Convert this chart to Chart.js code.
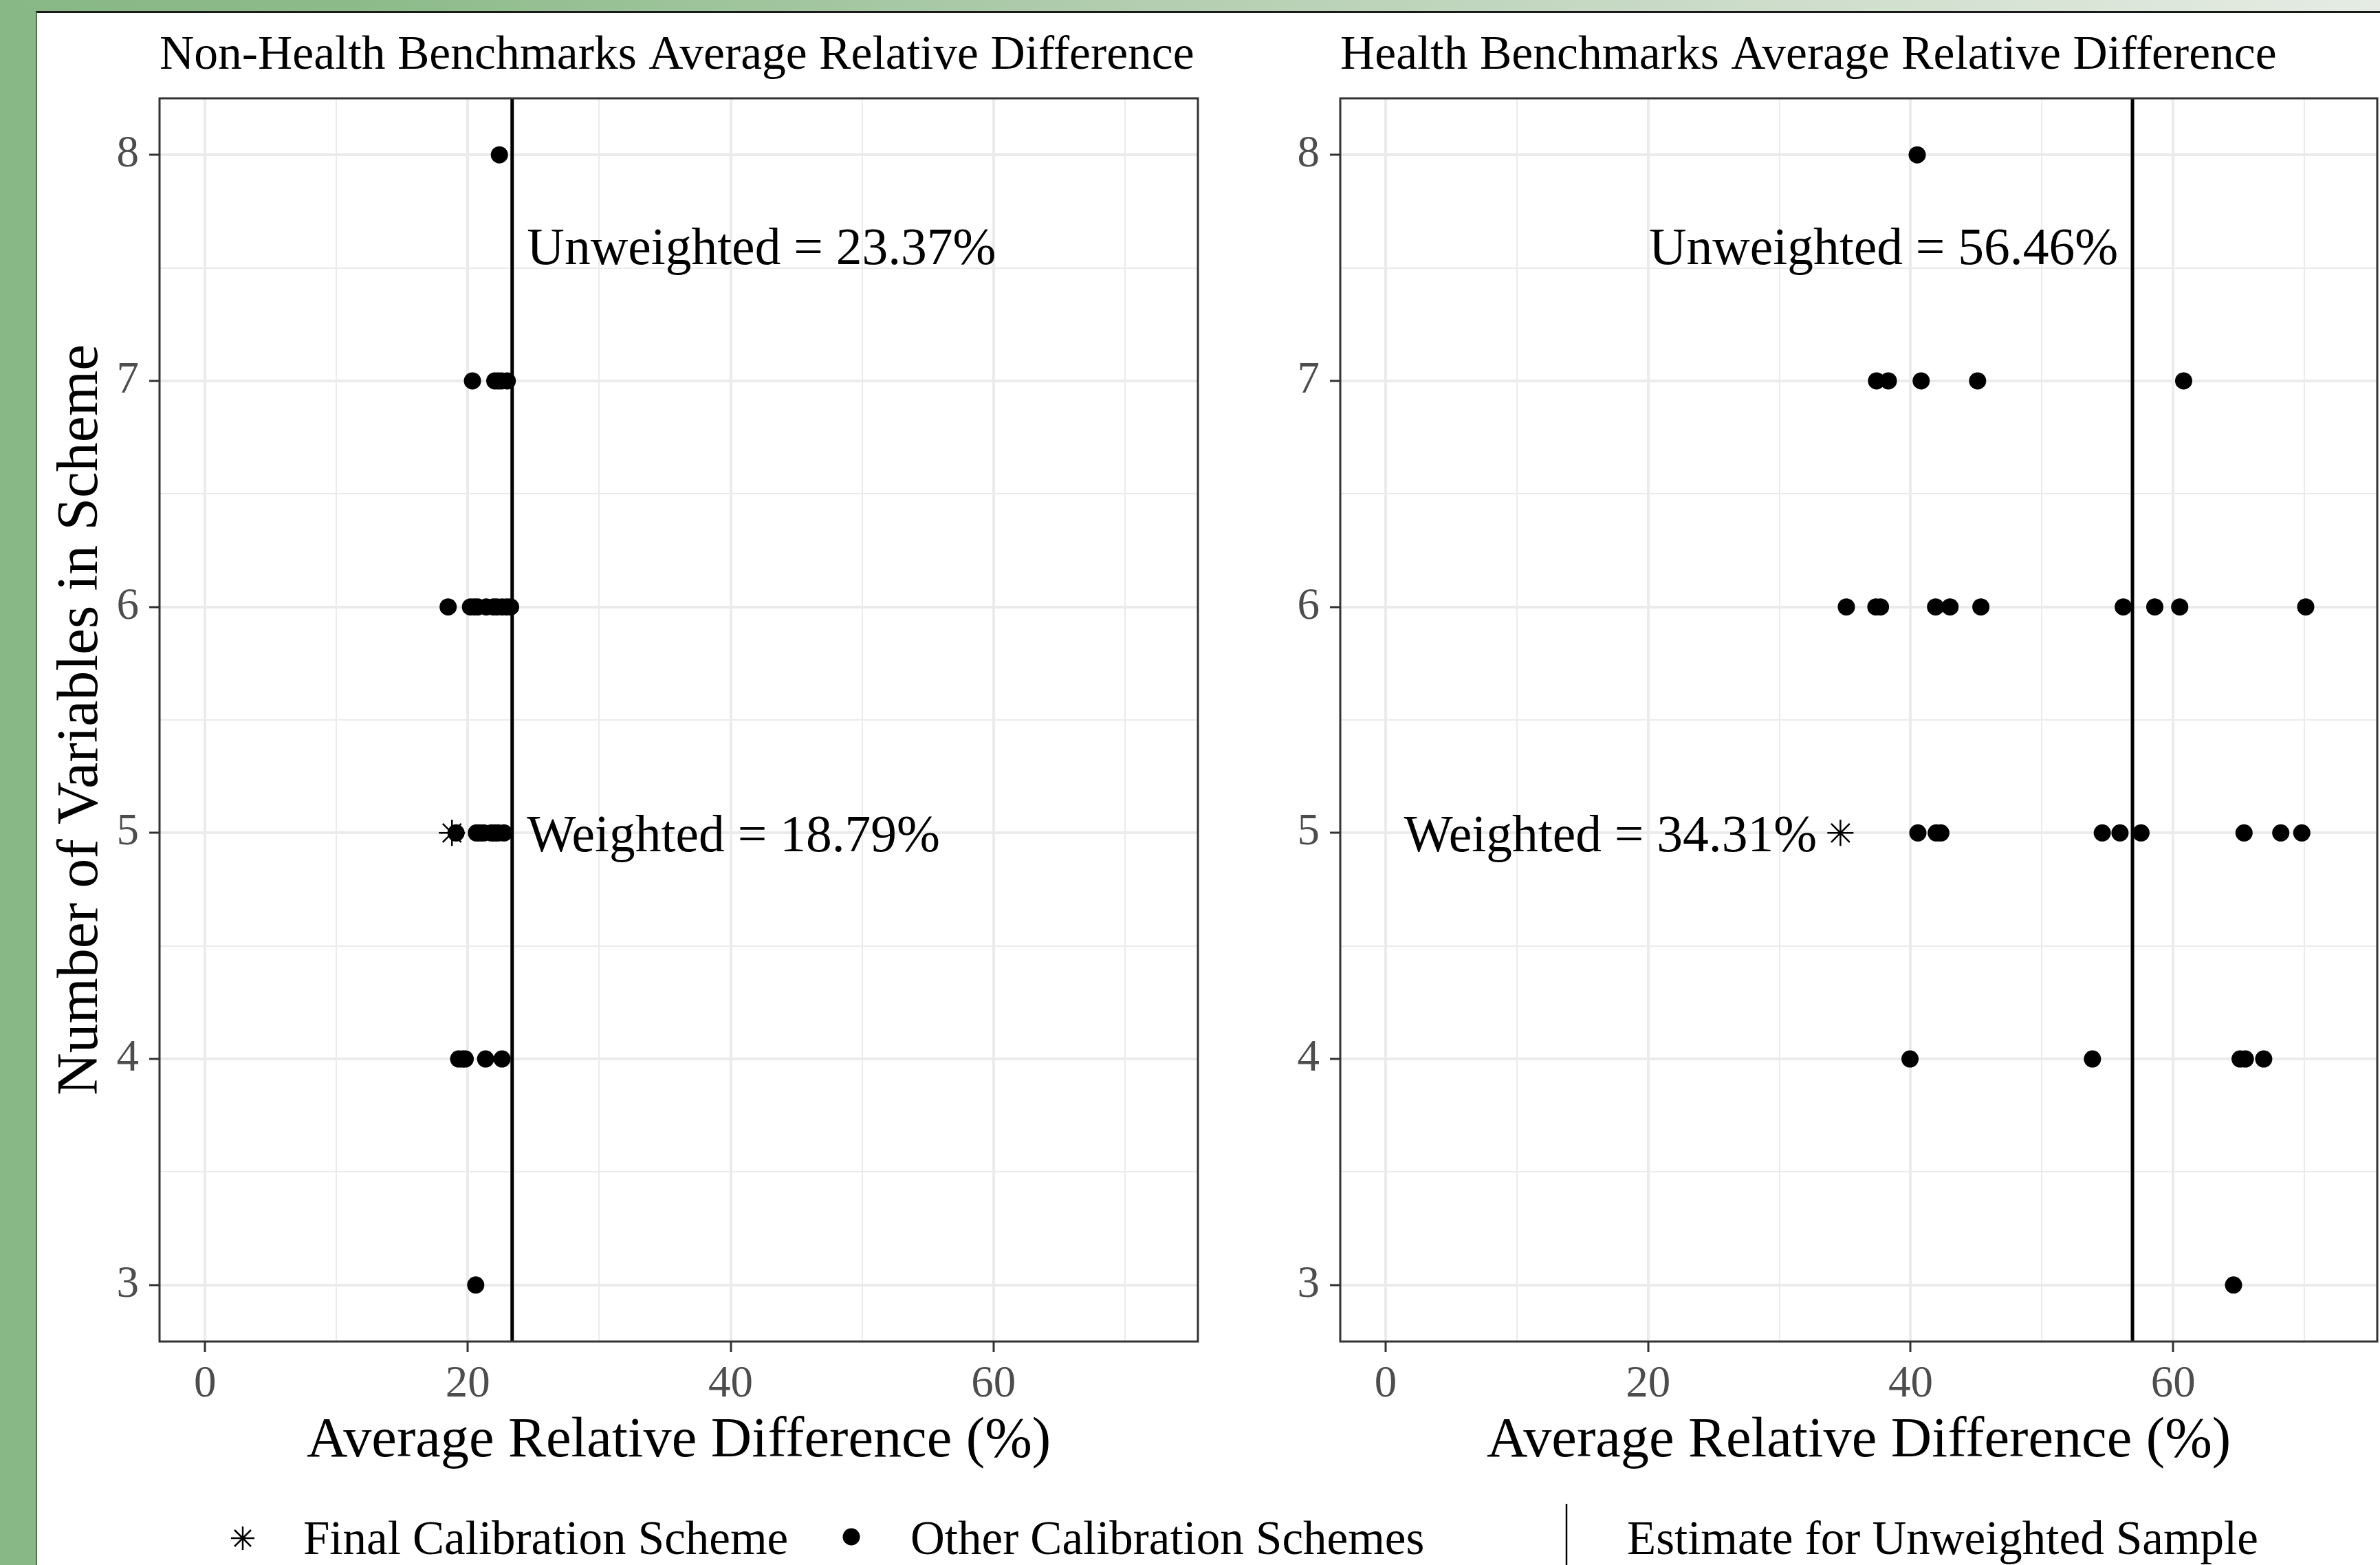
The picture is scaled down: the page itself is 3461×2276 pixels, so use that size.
<!DOCTYPE html>
<html>
<head>
<meta charset="utf-8">
<script src="https://cdn.jsdelivr.net/npm/chart.js@4.4.1/dist/chart.umd.min.js"></script>
<style>
html,body{margin:0;padding:0;}
body{width:3461px;height:2276px;position:relative;overflow:hidden;background:#88b886;font-family:"Liberation Serif","Times New Roman",serif;}
#topband{position:absolute;left:0;top:0;width:3461px;height:18px;background:linear-gradient(to right,#88b886 0px,#8cbb89 500px,#b7d0b4 1800px,#e6ece4 3461px);}
#sheet{position:absolute;left:52px;top:16px;width:3409px;height:2260px;background:#fff;border-top:3px solid #1a1a1a;border-left:2px solid #4f774c;box-sizing:border-box;}
canvas{position:absolute;}
#cL{left:53px;top:18px;}
#cR{left:1760px;top:18px;}
.lg{position:absolute;font-size:69px;line-height:69px;color:#000;white-space:nowrap;top:2203px;}
svg{position:absolute;overflow:visible;}
</style>
</head>
<body>
<div id="topband"></div>
<div id="sheet"></div>
<canvas id="cL" width="1707" height="2138"></canvas>
<canvas id="cR" width="1701" height="2138"></canvas>

<svg style="left:0;top:0;width:3461px;height:2276px;pointer-events:none">
  <g stroke="#000" stroke-width="2.5">
    <line x1="353" y1="2220" x2="353" y2="2254"/>
    <line x1="336" y1="2237" x2="370" y2="2237"/>
    <line x1="341" y1="2225" x2="365" y2="2249"/>
    <line x1="341" y1="2249" x2="365" y2="2225"/>
  </g>
  <circle cx="1238" cy="2235" r="12.5" fill="#000"/>
  <line x1="2278" y1="2187" x2="2278" y2="2276" stroke="#000" stroke-width="2.5"/>
</svg>
<div class="lg" style="left:441px">Final Calibration Scheme</div>
<div class="lg" style="left:1324px">Other Calibration Schemes</div>
<div class="lg" style="left:2366px">Estimate for Unweighted Sample</div>

<script>
// ---------------- data ----------------
const rowLevels = [8, 7, 6, 5, 4, 3];

// Non-health benchmarks: average relative difference (%) of other calibration schemes, by number of variables
const nonHealthRow8 = [22.4];
const nonHealthRow7 = [20.35, 22.05, 22.3, 22.55, 23.0];
const nonHealthRow6 = [18.5, 20.2, 20.5, 20.75, 21.4, 21.95, 22.2, 22.6, 22.95, 23.25];
const nonHealthRow5 = [19.1, 20.65, 20.9, 21.2, 21.8, 22.05, 22.3, 22.75];
const nonHealthRow4 = [19.3, 19.6, 19.8, 21.35, 22.6];
const nonHealthRow3 = [20.6];
const nonHealthFinal = {x: 18.79, y: 5};
const nonHealthUnweighted = 23.37;

// Health benchmarks
const healthRow8 = [40.5];
const healthRow7 = [37.4, 38.3, 40.8, 45.1, 60.8];
const healthRow6 = [35.1, 37.35, 37.7, 41.9, 43.0, 45.35, 56.2, 58.6, 60.5, 70.1];
const healthRow5 = [40.55, 41.95, 42.3, 54.6, 55.95, 57.55, 65.4, 68.2, 69.8];
const healthRow4 = [39.95, 53.85, 65.1, 65.5, 66.9];
const healthRow3 = [64.6];
const healthFinal = {x: 34.65, y: 5};
const healthUnweighted = 56.9;

// labels & ticks
const panelTitles = ['Non-Health Benchmarks Average Relative Difference', 'Health Benchmarks Average Relative Difference'];
const xTitle = 'Average Relative Difference (%)';
const yTitle = 'Number of Variables in Scheme';
const xTickValues = [0, 10, 20, 30, 40, 50, 60, 70];
const xLabelValues = [0, 20, 40, 60];
const yTickValues = [3, 3.5, 4, 4.5, 5, 5.5, 6, 6.5, 7, 7.5, 8];
const nonHealthNotes = ['Unweighted = 23.37%', 'Weighted = 18.79%'];
const healthNotes = ['Unweighted = 56.46%', 'Weighted = 34.31%'];

// ---------------- helpers ----------------
const FONT = 'Liberation Serif';
function rowsToPoints(rows) {
  const pts = [];
  rows.forEach((vals, i) => vals.forEach(v => pts.push({x: v, y: rowLevels[i]})));
  return pts;
}
const isMajorX = v => xLabelValues.includes(v);
const isMajorY = v => Number.isInteger(v);

const decorPlugin = {
  id: 'decor',
  afterDatasetsDraw(chart, args, o) {
    const {ctx, chartArea: a, scales: {x, y}} = chart;
    ctx.save();
    // unweighted reference line
    const px = x.getPixelForValue(o.vline);
    ctx.strokeStyle = '#000';
    ctx.lineWidth = 5;
    ctx.beginPath(); ctx.moveTo(px, a.top); ctx.lineTo(px, a.bottom); ctx.stroke();
    // annotations
    ctx.fillStyle = '#000';
    ctx.font = '75.5px "' + FONT + '"';
    ctx.textBaseline = 'middle';
    o.notes.forEach(n => {
      ctx.textAlign = n.align;
      ctx.fillText(n.text, x.getPixelForValue(n.x), y.getPixelForValue(n.y) + 7);
    });
    ctx.restore();
  },
  afterDraw(chart, args, o) {
    const {ctx, chartArea: a} = chart;
    ctx.save();
    ctx.strokeStyle = '#333333';
    ctx.lineWidth = 3;
    ctx.strokeRect(a.left, a.top, a.right - a.left, a.bottom - a.top);
    ctx.fillStyle = '#000';
    ctx.font = '69.6px "' + FONT + '"';
    ctx.textAlign = 'left';
    ctx.textBaseline = 'alphabetic';
    ctx.fillText(o.title, a.left, 82);
    ctx.restore();
  }
};

function makeChart(id, rows, finalPt, unweighted, title, notes, yWidth, padRight, showYTitle) {
  return new Chart(document.getElementById(id), {
    type: 'scatter',
    data: {
      datasets: [
        {
          label: 'Final Calibration Scheme',
          data: [finalPt],
          pointStyle: 'star',
          pointRadius: 19,
          pointHoverRadius: 19,
          borderColor: '#000',
          backgroundColor: '#000',
          borderWidth: 2.5,
          order: 0
        },
        {
          label: 'Other Calibration Schemes',
          data: rowsToPoints(rows),
          pointStyle: 'circle',
          pointRadius: 12.5,
          pointHoverRadius: 12.5,
          backgroundColor: '#000',
          borderWidth: 0,
          order: 1
        }
      ]
    },
    options: {
      responsive: false,
      animation: false,
      devicePixelRatio: 1,
      events: [],
      layout: {autoPadding: false, padding: {left: 0, top: 125, right: padRight, bottom: 0}},
      plugins: {
        legend: {display: false},
        tooltip: {enabled: false},
        decor: {vline: unweighted, title: title, notes: notes}
      },
      scales: {
        x: {
          type: 'linear',
          min: -3.46,
          max: 75.55,
          afterBuildTicks: s => { s.ticks = xTickValues.map(v => ({value: v})); },
          afterFit: s => { s.height = 205; },
          border: {display: false},
          grid: {
            color: '#EBEBEB',
            lineWidth: c => (c.tick && isMajorX(c.tick.value)) ? 4 : 2,
            tickColor: c => (c.tick && isMajorX(c.tick.value)) ? '#333333' : 'rgba(0,0,0,0)',
            tickWidth: 3,
            tickLength: 15,
            drawTicks: true
          },
          ticks: {
            autoSkip: false,
            maxRotation: 0,
            padding: 9,
            color: '#4D4D4D',
            font: {family: FONT, size: 65},
            callback: v => isMajorX(v) ? String(v) : ''
          },
          title: {
            display: true,
            text: xTitle,
            color: '#000',
            font: {family: FONT, size: 82.3, lineHeight: 1.2},
            padding: {top: 0, bottom: 10}
          }
        },
        y: {
          type: 'linear',
          min: 2.75,
          max: 8.25,
          afterBuildTicks: s => { s.ticks = yTickValues.map(v => ({value: v})); },
          afterFit: s => { s.width = yWidth; },
          border: {display: false},
          grid: {
            color: '#EBEBEB',
            lineWidth: c => (c.tick && isMajorY(c.tick.value)) ? 4 : 2,
            tickColor: c => (c.tick && isMajorY(c.tick.value)) ? '#333333' : 'rgba(0,0,0,0)',
            tickWidth: 3,
            tickLength: 15,
            drawTicks: true
          },
          ticks: {
            autoSkip: false,
            padding: 15,
            color: '#4D4D4D',
            font: {family: FONT, size: 65},
            callback: v => isMajorY(v) ? String(v) : ''
          },
          title: {
            display: showYTitle,
            text: yTitle,
            color: '#000',
            font: {family: FONT, size: 85.5, lineHeight: 1.2},
            padding: {top: 14, bottom: 0}
          }
        }
      }
    },
    plugins: [decorPlugin]
  });
}

makeChart('cL',
  [nonHealthRow8, nonHealthRow7, nonHealthRow6, nonHealthRow5, nonHealthRow4, nonHealthRow3],
  nonHealthFinal, nonHealthUnweighted, panelTitles[0],
  [
    {text: nonHealthNotes[0], x: 24.5, y: 7.6, align: 'left'},
    {text: nonHealthNotes[1], x: 24.5, y: 5, align: 'left'}
  ],
  179, 18, true);

makeChart('cR',
  [healthRow8, healthRow7, healthRow6, healthRow5, healthRow4, healthRow3],
  healthFinal, healthUnweighted, panelTitles[1],
  [
    {text: healthNotes[0], x: 55.8, y: 7.6, align: 'right'},
    {text: healthNotes[1], x: 32.85, y: 5, align: 'right'}
  ],
  189, 4, false);
</script>
</body>
</html>
